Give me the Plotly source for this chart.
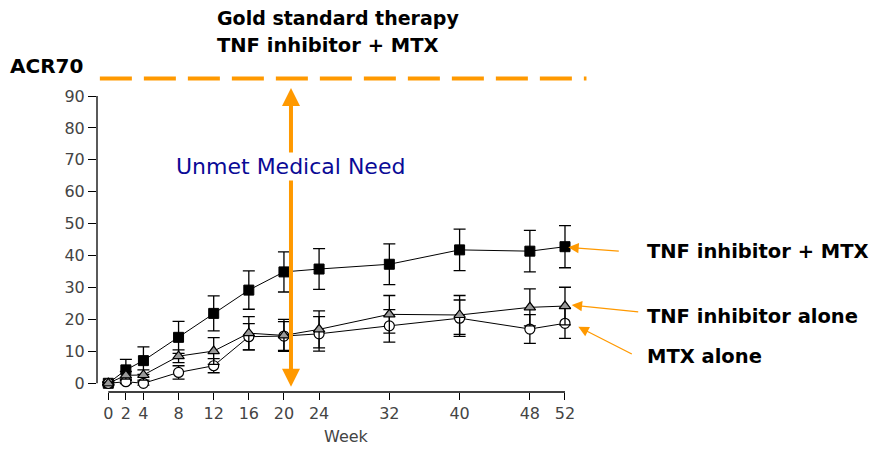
import plotly.graph_objects as go

weeks = [0, 2, 4, 8, 12, 16, 20, 24, 32, 40, 48, 52]
tnf_mtx = [0, 4.2, 7.1, 14.4, 21.9, 29.2, 34.9, 35.8, 37.3, 41.8, 41.4, 42.8]
tnf_mtx_err = [0.5, 3.3, 4.3, 5.0, 5.5, 6.0, 6.3, 6.4, 6.4, 6.5, 6.5, 6.6]
tnf_alone = [0, 2.5, 2.6, 8.5, 10.1, 15.7, 15.0, 16.9, 21.6, 21.4, 23.8, 24.2]
tnf_alone_err = [0.3, 1.2, 1.6, 2.0, 4.2, 5.2, 5.0, 5.8, 5.9, 6.1, 5.8, 5.9]
mtx_alone = [0, 0.5, 0.0, 3.4, 5.5, 14.6, 14.8, 15.5, 18.0, 20.4, 17.0, 18.8]
mtx_alone_err = [0.3, 0.6, 0.6, 2.1, 2.2, 4.1, 4.5, 5.4, 5.1, 5.7, 4.5, 4.7]
y_ticks = [0, 10, 20, 30, 40, 50, 60, 70, 80, 90]
acr70_level = 95.5

ORANGE = "#FF9900"
TICK_FONT = dict(family="DejaVu Sans", size=16, color="#444444")
BOLD = "DejaVu Sans"

fig = go.Figure()


def err(arr):
    return dict(type="data", array=arr, visible=True, color="black",
                thickness=1.3, width=6)


fig.add_trace(go.Scatter(
    x=weeks, y=tnf_mtx, mode="lines+markers", name="TNF inhibitor + MTX",
    line=dict(color="black", width=1),
    marker=dict(symbol="square", size=10, color="black",
                line=dict(color="black", width=1)),
    error_y=err(tnf_mtx_err)))
fig.add_trace(go.Scatter(
    x=weeks, y=mtx_alone, mode="lines+markers", name="MTX alone",
    line=dict(color="black", width=1),
    marker=dict(symbol="circle", size=10, color="white",
                line=dict(color="black", width=1.2)),
    error_y=err(mtx_alone_err)))
fig.add_trace(go.Scatter(
    x=weeks, y=tnf_alone, mode="lines+markers", name="TNF inhibitor alone",
    line=dict(color="black", width=1),
    marker=dict(symbol="triangle-up", size=10, color="#999999",
                line=dict(color="black", width=1.2)),
    error_y=err(tnf_alone_err)))

# detached axis lines
fig.add_shape(type="line", xref="paper", yref="y", x0=0, x1=0,
              y0=y_ticks[0], y1=y_ticks[-1], line=dict(color="black", width=1.3))
fig.add_shape(type="line", xref="x", yref="paper", x0=weeks[0], x1=weeks[-1],
              y0=0, y1=0, line=dict(color="black", width=1.3))

# ACR70 dashed line
fig.add_shape(type="line", xref="paper", yref="y", x0=0.006, x1=1.024,
              y0=acr70_level, y1=acr70_level,
              line=dict(color=ORANGE, width=4, dash="32px,12px"))

# vertical double arrow
fig.add_annotation(x=20.8, y=-1.1, ax=20.8, ay=93.0, xref="x", yref="y",
                   axref="x", ayref="y", text="", showarrow=True,
                   arrowhead=2, arrowside="end+start", arrowsize=0.9,
                   arrowwidth=4, arrowcolor=ORANGE, standoff=0, startstandoff=0)

fig.add_annotation(x=20.8, y=68, xref="x", yref="y", text="Unmet Medical Need",
                   showarrow=False, font=dict(family="DejaVu Sans", size=22,
                                              color="#0A0A96"),
                   bgcolor="white", xanchor="center", yanchor="middle")


def paper_text(px, py, txt, size, anchor="left", bold=True, color="black"):
    fig.add_annotation(x=(px - 97) / 478, y=(392 - py) / 332, xref="paper",
                       yref="paper",
                       text=("<b>" + txt + "</b>") if bold else txt,
                       showarrow=False, xanchor=anchor, yanchor="middle",
                       font=dict(family=BOLD, size=size, color=color))


paper_text(215, 18, "Gold standard therapy", 19)
paper_text(215, 46, "TNF inhibitor + MTX", 19.5)
paper_text(8, 66, "ACR70", 20)
paper_text(645, 251, "TNF inhibitor + MTX", 19.5)
paper_text(645, 316, "TNF inhibitor alone", 19.5)
paper_text(645, 356, "MTX alone", 19.5)
paper_text(346, 437, "Week", 16, anchor="center", bold=False, color="#444444")

# pointer arrows (tip x in paper coords so they are never clipped)
for px, yv, axp, ayp in [(568.3, tnf_mtx[-1] - 0.2, 52, 4),
                         (571.7, tnf_alone[-1] + 0.3, 68, 7),
                         (578.3, mtx_alone[-1] - 1.1, 55, 28)]:
    fig.add_annotation(x=(px - 97) / 478, y=yv, xref="paper", yref="y",
                       ax=axp, ay=ayp, text="", showarrow=True, arrowhead=2,
                       arrowsize=1.6, arrowwidth=1.3, arrowcolor=ORANGE,
                       standoff=0)

fig.update_layout(
    width=871, height=450, showlegend=False,
    margin=dict(l=97, r=296, t=60, b=58, autoexpand=False),
    plot_bgcolor="white", paper_bgcolor="white",
    xaxis=dict(range=[-1.287, 53.14], tickvals=weeks, ticks="outside",
               ticklen=7, tickwidth=1.3, tickcolor="black", showgrid=False,
               zeroline=False, showline=False, tickfont=TICK_FONT,
               automargin=False),
    yaxis=dict(range=[-2.73, 101.3], tickvals=y_ticks, ticks="outside",
               ticklen=8, tickwidth=1.3, tickcolor="black", showgrid=False,
               zeroline=False, showline=False, tickfont=TICK_FONT,
               automargin=False),
)

fig.write_html("out.html", config={"displayModeBar": False},
               post_script="document.body.style.margin='0';"
                           "document.body.style.overflow='hidden';")
